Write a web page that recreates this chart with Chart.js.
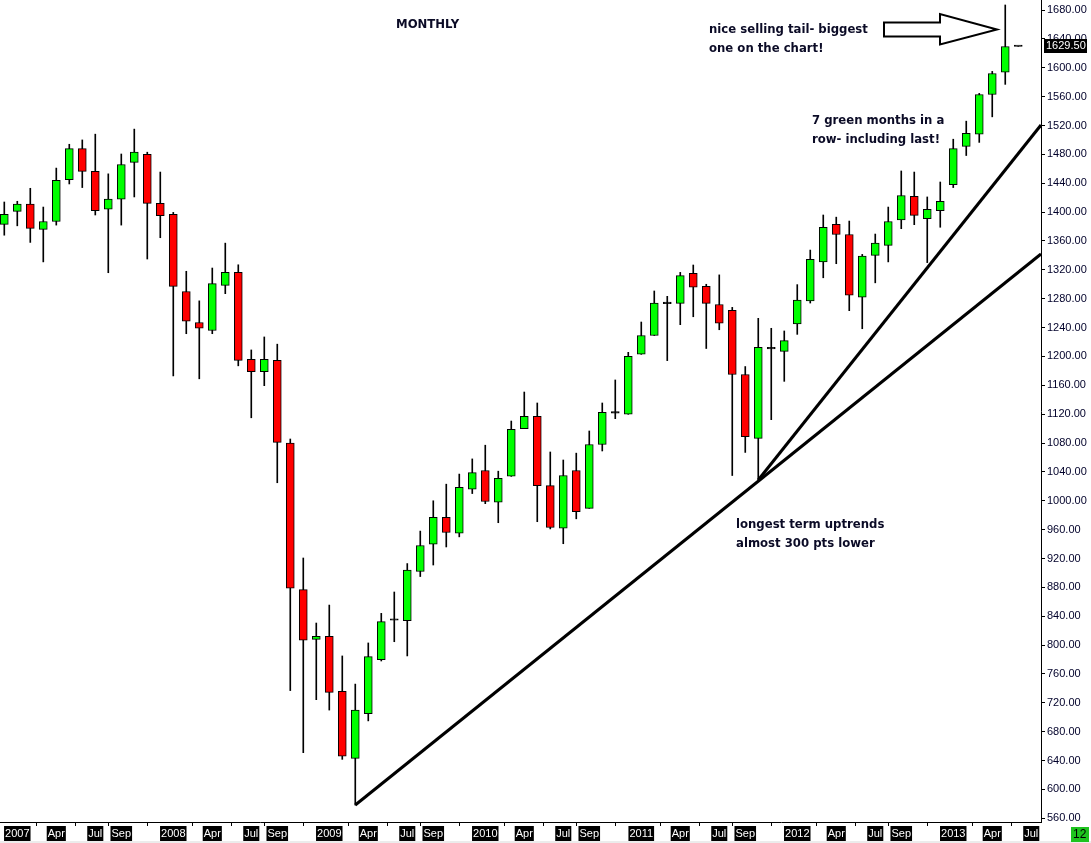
<!DOCTYPE html>
<html>
<head>
<meta charset="utf-8">
<title>MONTHLY</title>
<script src="https://cdn.jsdelivr.net/npm/chart.js@4.4.1/dist/chart.umd.min.js"></script>
<style>
  html, body { margin: 0; padding: 0; background: #fff; }
  #wrap { width: 1091px; height: 843px; }
</style>
</head>
<body>
<div id="wrap"><canvas id="chart" width="1091" height="843"></canvas></div>
<script>
// monthly bars, Dec 2006 .. Jun 2013
const months = [
  'Dec 2006',
  'Jan 2007','Feb 2007','Mar 2007','Apr 2007','May 2007','Jun 2007','Jul 2007','Aug 2007','Sep 2007','Oct 2007','Nov 2007','Dec 2007',
  'Jan 2008','Feb 2008','Mar 2008','Apr 2008','May 2008','Jun 2008','Jul 2008','Aug 2008','Sep 2008','Oct 2008','Nov 2008','Dec 2008',
  'Jan 2009','Feb 2009','Mar 2009','Apr 2009','May 2009','Jun 2009','Jul 2009','Aug 2009','Sep 2009','Oct 2009','Nov 2009','Dec 2009',
  'Jan 2010','Feb 2010','Mar 2010','Apr 2010','May 2010','Jun 2010','Jul 2010','Aug 2010','Sep 2010','Oct 2010','Nov 2010','Dec 2010',
  'Jan 2011','Feb 2011','Mar 2011','Apr 2011','May 2011','Jun 2011','Jul 2011','Aug 2011','Sep 2011','Oct 2011','Nov 2011','Dec 2011',
  'Jan 2012','Feb 2012','Mar 2012','Apr 2012','May 2012','Jun 2012','Jul 2012','Aug 2012','Sep 2012','Oct 2012','Nov 2012','Dec 2012',
  'Jan 2013','Feb 2013','Mar 2013','Apr 2013','May 2013','Jun 2013'
];

const opens = [
  1383,
  1401, 1411, 1376, 1387, 1445, 1488, 1456.5, 1404, 1418, 1469, 1480, 1412,
  1397, 1290, 1247, 1236, 1298.5, 1316.5, 1196, 1179, 1194.6, 1080, 877, 808,
  812, 736, 643, 705, 780, 834.5, 834, 902, 940, 977, 955, 1016,
  1042, 998, 1034, 1100, 1117, 1021, 962, 1042, 989.5, 1078, 1121.5, 1120,
  1203, 1229, 1273.2, 1273.6, 1315, 1297, 1272, 1264, 1175, 1086.5, 1210.5, 1207,
  1245, 1277, 1331, 1383, 1369, 1282, 1340, 1354, 1389, 1422, 1391, 1402,
  1438, 1491, 1508, 1563, 1594, 1629.5
];
const highs = [
  1414,
  1415, 1433, 1407, 1461, 1494, 1500, 1508, 1453, 1480.5, 1515, 1483, 1455.5,
  1399.6, 1318, 1277, 1322.5, 1357, 1327, 1209, 1227, 1217, 1085.6, 920.7, 830.6,
  855.5, 785, 746, 803, 844, 873.6, 913, 958, 1000, 1023, 1037, 1058,
  1077, 1041, 1110.5, 1150.7, 1135.5, 1067.6, 1056.5, 1066, 1096.7, 1135.5, 1167.4, 1205.7,
  1247.7, 1290.7, 1283.3, 1316.5, 1326.7, 1300, 1313, 1268, 1186, 1252.8, 1239, 1235.3,
  1299.5, 1347.4, 1396, 1393, 1387.6, 1341.4, 1369.6, 1407, 1457, 1455.5, 1421, 1441.7,
  1501, 1526, 1564.5, 1595, 1687, 1629.5
];
const lows = [
  1368,
  1381, 1358, 1331, 1382, 1439, 1434, 1396, 1316, 1382, 1421, 1335, 1364.5,
  1173, 1231.5, 1169, 1231.5, 1287, 1187, 1115, 1159.5, 1025, 737, 651, 724.4,
  710, 641.7, 578.4, 695, 778, 804.7, 785, 895, 911, 936, 950, 1010,
  996, 969.6, 1033.8, 1100, 971, 961, 940.5, 975, 989.5, 1069, 1113.8, 1119.8,
  1202.9, 1229, 1194.2, 1244, 1255, 1211, 1237, 1035, 1067, 1028.8, 1112.4, 1165.5,
  1230.6, 1274, 1309, 1328.5, 1263.4, 1238.4, 1302, 1331, 1377, 1382.6, 1330, 1379,
  1434, 1478.4, 1496.6, 1532, 1577, 1629.5
];
const closes = [
  1397,
  1411, 1377.5, 1387, 1444, 1488, 1456.5, 1402, 1418, 1466, 1483, 1412, 1395,
  1297, 1249, 1239, 1301, 1316.5, 1194.6, 1179, 1196, 1081, 879, 807, 812,
  734.5, 646, 710, 784, 832.5, 835.5, 904, 938, 977, 956, 1018.6, 1039,
  999, 1031, 1099, 1117, 1021, 963, 1035, 985, 1078, 1122.5, 1122.3, 1200,
  1229, 1274, 1274, 1312, 1296, 1273.6, 1246, 1175, 1089, 1212.6, 1211.2, 1222,
  1278, 1334.5, 1379, 1369, 1285, 1339, 1357, 1387, 1423, 1395.5, 1404, 1415,
  1488, 1509, 1563, 1592, 1629.5, 1629.5
];

// axis labels
const xTickIdx = [1, 4, 7, 9, 13, 16, 19, 21, 25, 28, 31, 33, 37, 40, 43, 45,
  49, 52, 55, 57, 61, 64, 67, 69, 73, 76, 79];
const xTickText = ['2007', 'Apr', 'Jul', 'Sep', '2008', 'Apr', 'Jul', 'Sep',
  '2009', 'Apr', 'Jul', 'Sep', '2010', 'Apr', 'Jul', 'Sep',
  '2011', 'Apr', 'Jul', 'Sep', '2012', 'Apr', 'Jul', 'Sep', '2013', 'Apr', 'Jul'];
const yTicks = [560, 600, 640, 680, 720, 760, 800, 840, 880, 920, 960, 1000, 1040,
  1080, 1120, 1160, 1200, 1240, 1280, 1320, 1360, 1400, 1440, 1480, 1520, 1560,
  1600, 1640, 1680];

// trend lines drawn on the chart: [month index, price]
const trendLong = [[27, 578.4], [79.75, 1341.9]];
const trendShort = [[58, 1028.8], [79.75, 1520.7]];

const lastPrice = 1629.50;

const UP = '#00ff00';
const DOWN = '#ff0000';

const bodyColors = months.map((m, i) => {
  const diff = closes[i] - opens[i];
  if (Math.abs(diff) <= 1.5) return '#000000';
  return diff > 0 ? UP : DOWN;
});

// no extra room around the axes, the plot runs to the canvas edges
const noPad = (scale) => {
  scale.paddingTop = 0;
  scale.paddingBottom = 0;
  scale.paddingLeft = 0;
  scale.paddingRight = 0;
};

const notes = {
  id: 'notes',
  beforeDraw(chart) {
    const ctx = chart.ctx;
    ctx.save();
    ctx.fillStyle = '#ffffff';
    ctx.fillRect(0, 0, chart.width, chart.height);
    ctx.restore();
  },
  afterDraw(chart) {
    const ctx = chart.ctx;
    ctx.save();

    ctx.fillStyle = '#0b0b26';
    ctx.font = 'bold 11.7px "DejaVu Sans"';
    ctx.textBaseline = 'alphabetic';
    ctx.fillText('MONTHLY', 396, 28);
    ctx.fillText('nice selling tail- biggest', 709, 33);
    ctx.fillText('one on the chart!', 709, 52);
    ctx.fillText('7 green months in a', 812, 124);
    ctx.fillText('row- including last!', 812, 143);
    ctx.fillText('longest term uptrends', 736, 528);
    ctx.fillText('almost 300 pts lower', 736, 547);

    // hollow arrow pointing at the May tail
    ctx.beginPath();
    ctx.moveTo(884, 22.5);
    ctx.lineTo(940, 22.5);
    ctx.lineTo(940, 14);
    ctx.lineTo(997, 29.5);
    ctx.lineTo(940, 44.5);
    ctx.lineTo(940, 36.5);
    ctx.lineTo(884, 36.5);
    ctx.closePath();
    ctx.lineWidth = 2;
    ctx.strokeStyle = '#000';
    ctx.stroke();

    // last price tag on the axis
    const y = chart.scales.y.getPixelForValue(lastPrice);
    ctx.fillStyle = '#000';
    ctx.fillRect(1044, Math.round(y) - 7, 43, 14);
    ctx.fillStyle = '#fff';
    ctx.font = '11px "Liberation Sans"';
    ctx.textBaseline = 'middle';
    ctx.fillText(lastPrice.toFixed(2), 1046, Math.round(y));

    // bottom strip and counter box
    ctx.fillStyle = '#ececec';
    ctx.fillRect(0, 841, chart.width, 2);
    ctx.fillStyle = '#1ec31e';
    ctx.fillRect(1071, 827, 18, 15);
    ctx.fillStyle = '#000';
    ctx.font = '12px "Liberation Sans"';
    ctx.fillText('12', 1073, 835);

    ctx.restore();
  }
};

new Chart(document.getElementById('chart'), {
  type: 'bar',
  data: {
    datasets: [
      {
        type: 'line',
        data: trendLong.map(p => ({ x: p[0], y: p[1] })),
        borderColor: '#000',
        borderWidth: 3,
        pointRadius: 0,
        order: 0
      },
      {
        type: 'line',
        data: trendShort.map(p => ({ x: p[0], y: p[1] })),
        borderColor: '#000',
        borderWidth: 3,
        pointRadius: 0,
        order: 0
      },
      {
        label: 'body',
        data: months.map((m, i) => ({ x: i, y: [opens[i], closes[i]] })),
        backgroundColor: bodyColors,
        borderColor: '#000',
        borderWidth: 1,
        borderSkipped: false,
        barThickness: 8,
        minBarLength: 1.5,
        grouped: false,
        order: 1
      },
      {
        label: 'wick',
        data: months.map((m, i) => ({ x: i, y: [lows[i], highs[i]] })),
        backgroundColor: '#000',
        borderWidth: 0,
        barThickness: 1,
        grouped: false,
        order: 2
      }
    ]
  },
  options: {
    responsive: false,
    animation: false,
    layout: { padding: 0 },
    plugins: {
      legend: { display: false },
      tooltip: { enabled: false },
      title: { display: false }
    },
    scales: {
      x: {
        type: 'linear',
        min: -0.33,
        max: 79.75,
        offset: false,
        afterBuildTicks: (scale) => {
          scale.ticks = xTickIdx.map(v => ({ value: v }));
        },
        afterFit: (scale) => { scale.height = 21; noPad(scale); },
        ticks: {
          autoSkip: false,
          maxRotation: 0,
          color: '#ffffff',
          font: { family: 'Liberation Sans', size: 11 },
          padding: 1,
          showLabelBackdrop: true,
          backdropColor: '#000000',
          backdropPadding: { left: 1, right: 1, top: 1, bottom: 1 },
          callback: (value, index) => xTickText[index]
        },
        grid: {
          drawOnChartArea: false,
          drawTicks: true,
          tickLength: 4,
          color: '#000'
        },
        border: { display: true, color: '#000', width: 1 }
      },
      y: {
        type: 'linear',
        position: 'right',
        min: 554.9,
        max: 1693.9,
        afterBuildTicks: (scale) => {
          scale.ticks = yTicks.map(v => ({ value: v }));
        },
        afterFit: (scale) => { scale.width = 50; noPad(scale); },
        ticks: {
          color: '#00002a',
          font: { family: 'Liberation Sans', size: 11 },
          padding: 2,
          callback: (value) => Number(value).toFixed(2)
        },
        grid: {
          drawOnChartArea: false,
          drawTicks: true,
          tickLength: 4,
          color: '#000'
        },
        border: { display: true, color: '#000', width: 1 }
      }
    }
  },
  plugins: [notes]
});
</script>
</body>
</html>
